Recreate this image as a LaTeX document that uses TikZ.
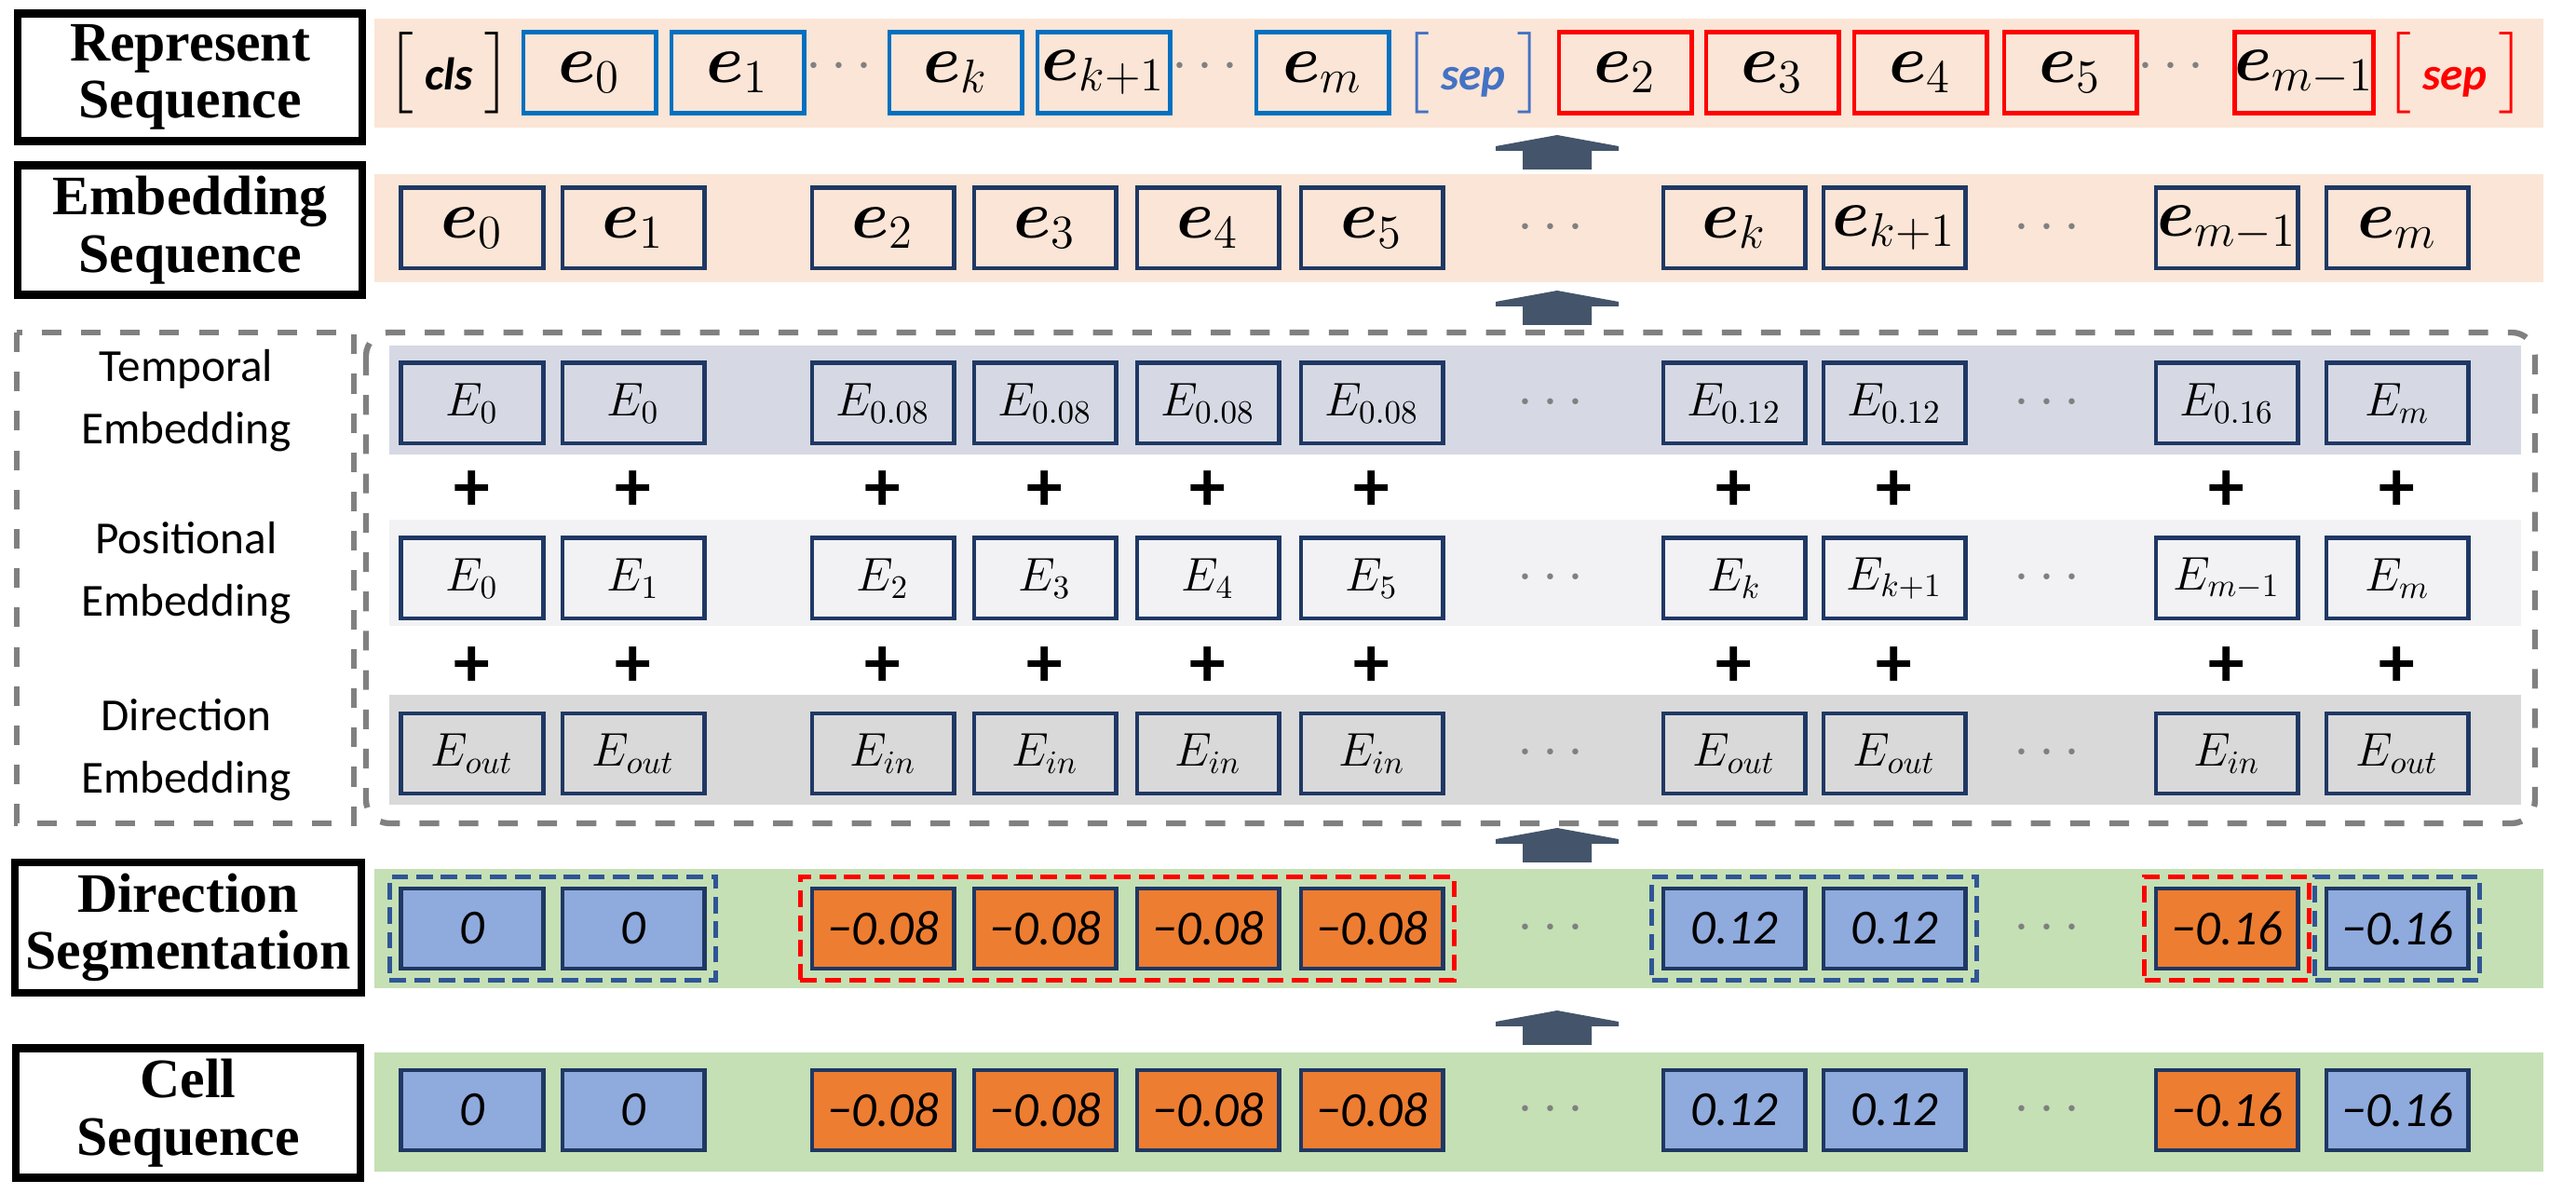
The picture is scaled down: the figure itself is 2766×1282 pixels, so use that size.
\documentclass[tikz,border=0pt]{standalone}
\usepackage{amsmath,bm}
\usepackage{fontspec}
\setmainfont{Carlito}
\newfontfamily\titlefont{Liberation Serif}
\usetikzlibrary{fit}
\definecolor{navy}{HTML}{1F3864}
\definecolor{pinkbg}{HTML}{FBE5D6}
\definecolor{greenbg}{HTML}{C5E0B4}
\definecolor{tempbg}{HTML}{D6D9E4}
\definecolor{posbg}{HTML}{F2F2F4}
\definecolor{dirbg}{HTML}{D9D9D9}
\definecolor{cellblue}{HTML}{8FAADC}
\definecolor{cellorange}{HTML}{ED7D31}
\definecolor{repblue}{HTML}{0070C0}
\definecolor{sepblue}{HTML}{4472C4}
\definecolor{grpblue}{HTML}{2F5597}
\definecolor{arrowgray}{HTML}{44546A}
\tikzset{
  title/.style={draw,line width=2.4pt,minimum width=3.7cm,minimum height=1.22cm,
    align=center,font=\titlefont\bfseries\fontsize{17}{17.5}\selectfont},
  band/.style={inner sep=0pt},
  cell/.style={draw=navy,line width=1.4pt,minimum width=1.52cm,minimum height=0.86cm,inner sep=0pt},
  rep/.style={draw=#1,line width=1.4pt,minimum width=1.42cm,minimum height=0.87cm,inner sep=0pt,
    font=\fontsize{20}{20}\selectfont},
  brk/.style={text=#1,font=\fontsize{20}{20}\selectfont},
  emb/.style={cell,font=\fontsize{20}{20}\selectfont},
  vec/.style={cell,font=\fontsize{14}{14}\selectfont},
  num/.style={cell,fill=#1,font=\itshape\fontsize{15}{15}\selectfont},
  grp/.style={draw=#1,line width=1.6pt,dash pattern=on 5pt off 2.5pt,inner sep=0.1cm},
  dots/.style={text=gray,font=\bfseries\fontsize{18}{18}\selectfont},
  plus/.style={font=\bfseries\fontsize{22}{22}\selectfont},
  side/.style={align=center,font=\fontsize{14}{19}\selectfont},
  outline/.style={draw=gray,line width=1.8pt,dash pattern=on 6pt off 6pt},
}
\newcommand\blockup[2]{%
  \fill[arrowgray] (#1-37,#2) -- (#1-37,#2+20) -- (#1-66,#2+20) -- (#1-66,#2+25)
    -- (#1,#2+37) -- (#1+66,#2+25) -- (#1+66,#2+20) -- (#1+37,#2+20) -- (#1+37,#2) -- cycle;}
\newcommand\tagtxt[1]{$\bigl[$\,{\fontsize{14}{14}\selectfont\bfseries\itshape #1}\,$\bigr]$}
\begin{document}
\begin{tikzpicture}[x=0.01cm,y=0.01cm]
\useasboundingbox (0,0) rectangle (2766,1282);
% background bands
\fill[pinkbg] (402,1145) rectangle (2731,1262);
\fill[pinkbg] (402,979) rectangle (2731,1095);
\fill[tempbg] (418,794) rectangle (2707,911);
\fill[posbg] (418,610) rectangle (2707,724);
\fill[dirbg] (418,418) rectangle (2707,536);
\fill[greenbg] (402,221) rectangle (2731,349);
\fill[greenbg] (402,24) rectangle (2731,152);
% row titles
\node[title] (t-rep) at (204,1199) {Represent\\Sequence};
\node[title] (t-emb) at (204,1035) {Embedding\\Sequence};
\node[title] (t-seg) at (202,286) {Direction\\Segmentation};
\node[title] (t-cell) at (202,87) {Cell\\Sequence};
% dashed frame
\draw[outline] (18,925) rectangle (380,398);
\draw[outline,rounded corners=0.25cm] (393,925) rectangle (2722,398);
\node[side] (l-temp) at (200,852) {Temporal\\Embedding};
\node[side] (l-pos) at (200,667) {Positional\\Embedding};
\node[side] (l-dir) at (200,477) {Direction\\Embedding};
% represent sequence
\node[brk=black] (cls) at (482,1204) {\tagtxt{cls}};
\foreach \x/\t [count=\i] in {633/0,792/1,1026/k,1185/k+1,1420/m}
  \node[rep=repblue] (r-\i) at (\x,1204) {$\bm{e}_{\t}$};
\node[brk=sepblue] (sep1) at (1582,1204) {\tagtxt{sep}};
\foreach \x/\t [count=\i] in {1745/2,1903/3,2062/4,2223/5,2474/m-1}
  \node[rep=red] (s-\i) at (\x,1204) {$\bm{e}_{\t}$};
\node[brk=red] (sep2) at (2636,1204) {\tagtxt{sep}};
\node[dots] (rd-1) at (906,1210) {$\cdots$};
\node[dots] (rd-2) at (1299,1210) {$\cdots$};
\node[dots] (rd-3) at (2336,1210) {$\cdots$};
% embedding rows
\foreach \x/\t [count=\i] in {507/0,680/1,948/2,1122/3,1297/4,1473/5,1862/k,2034/k+1,2391/m-1,2574/m}
  \node[emb] (emb-\i) at (\x,1037) {$\bm{e}_{\t}$};
\foreach \x/\t [count=\i] in {507/0,680/0,948/0.08,1122/0.08,1297/0.08,1473/0.08,1862/0.12,2034/0.12,2391/0.16,2574/m}
  \node[vec] (tmp-\i) at (\x,849) {$E_{\t}$};
\foreach \x/\t [count=\i] in {507/0,680/1,948/2,1122/3,1297/4,1473/5,1862/k,2034/k+1,2391/m-1,2574/m}
  \node[vec] (pos-\i) at (\x,661) {$E_{\t}$};
\foreach \x/\t [count=\i] in {507/out,680/out,948/in,1122/in,1297/in,1473/in,1862/out,2034/out,2391/in,2574/out}
  \node[vec] (dir-\i) at (\x,473) {$E_{\t}$};
\foreach \x [count=\i] in {507,680,948,1122,1297,1473,1862,2034,2391,2574} {
  \node[plus] (pa-\i) at (\x,755) {+};
  \node[plus] (pb-\i) at (\x,566) {+};
}
% direction segmentation and cell sequence
\foreach \x/\t/\c [count=\i] in {507/0/cellblue,680/0/cellblue,948/\textminus0.08/cellorange,1122/\textminus0.08/cellorange,1297/\textminus0.08/cellorange,1473/\textminus0.08/cellorange,1862/0.12/cellblue,2034/0.12/cellblue,2391/\textminus0.16/cellorange,2574/\textminus0.16/cellblue} {
  \node[num=\c] (ds-\i) at (\x,285) {\t};
  \node[num=\c] (cs-\i) at (\x,90) {\t};
}
\node[grp=grpblue,fit=(ds-1)(ds-2)] (g-1) {};
\node[grp=red,fit=(ds-3)(ds-6)] (g-2) {};
\node[grp=grpblue,fit=(ds-7)(ds-8)] (g-3) {};
\node[grp=red,fit=(ds-9)] (g-4) {};
\node[grp=grpblue,fit=(ds-10)] (g-5) {};
\foreach \y [count=\j] in {1037,849,661,473,285,90} {
  \node[dots] (d-\j-a) at (1670,\y) {$\cdots$};
  \node[dots] (d-\j-b) at (2203,\y) {$\cdots$};
}
% arrows between layers
\blockup{1672}{1100}
\blockup{1672}{933}
\blockup{1672}{356}
\blockup{1672}{160}
\end{tikzpicture}
\end{document}
